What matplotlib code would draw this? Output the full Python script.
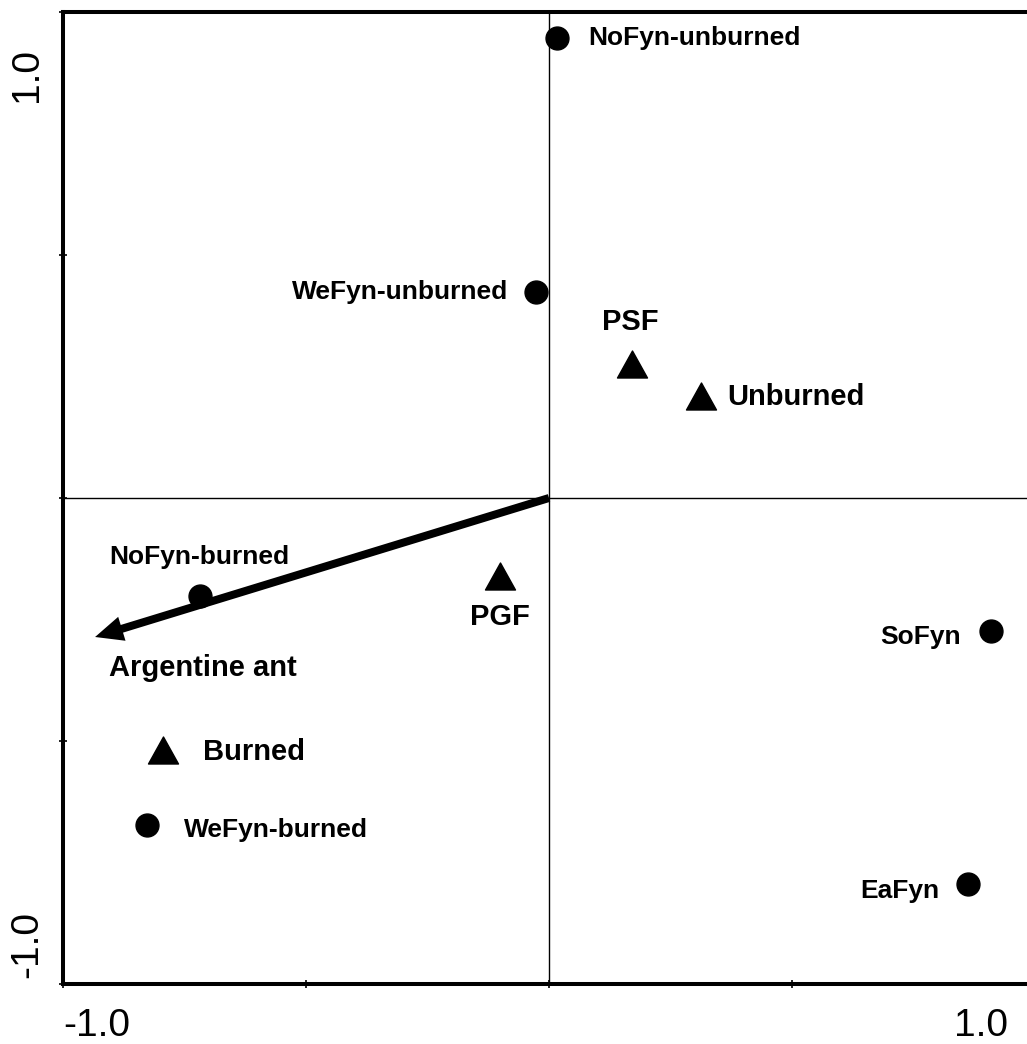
import matplotlib
matplotlib.use("Agg")
import matplotlib.pyplot as plt
from matplotlib.path import Path
from matplotlib.patches import FancyArrow
from matplotlib.transforms import ScaledTranslation

plt.rcParams['font.family'] = ['Liberation Sans', 'DejaVu Sans']

# Sites (circles)
site_names = ["NoFyn-unburned", "WeFyn-unburned", "NoFyn-burned",
              "WeFyn-burned", "SoFyn", "EaFyn"]
site_x = [0.016, -0.027, -0.718, -0.827, 0.909, 0.862]
site_y = [0.947, 0.424, -0.202, -0.673, -0.274, -0.794]

# Treatments / habitat types (triangles)
treat_names = ["PSF", "Unburned", "PGF", "Burned"]
treat_x = [0.171, 0.313, -0.101, -0.794]
treat_y = [0.276, 0.210, -0.160, -0.519]

# Environmental vector
vector_name = "Argentine ant"
vector_x = -0.934
vector_y = -0.286

xticks = [-1.0, -0.5, 0.0, 0.5, 1.0]
xtick_labels = ["-1.0", "", "", "", "1.0"]
yticks = [-1.0, -0.5, 0.0, 0.5, 1.0]
ytick_labels = ["-1.0", "", "", "", "1.0"]

# label placement (pixel offsets from the mark, horizontal alignment)
site_offsets = [(31, 0, "left"), (-28, 0, "right"), (-91, 39, "left"),
                (37, -5, "left"), (-30, -6, "right"), (-29, -7, "right")]
treat_offsets = [(-2, 42, "center"), (26, -1, "left"),
                 (0, -41, "center"), (40, -2, "left")]

W, H = 1027, 1044
fig = plt.figure(figsize=(W / 100, H / 100), dpi=100)
ax = fig.add_axes([63 / W, 60 / H, 972 / W, 972 / H])
ax.set_xlim(-1.0, 1.0)
ax.set_ylim(-1.0, 1.0)

for side in ("left", "top", "bottom"):
    ax.spines[side].set_linewidth(2.9)
ax.spines["right"].set_visible(False)

ax.axhline(0, color="black", lw=1.0, zorder=1)
ax.axvline(0, color="black", lw=1.0, zorder=1)

# site scores
ax.plot(site_x, site_y, "o", color="black", markersize=16.5, zorder=3)

# treatment centroids
tri = Path([(-1, -0.9), (1, -0.9), (0, 0.9), (-1, -0.9)],
           [Path.MOVETO, Path.LINETO, Path.LINETO, Path.CLOSEPOLY])
ax.plot(treat_x, treat_y, linestyle="none", marker=tri, color="black",
        markersize=21.6, zorder=3)

# biplot arrow
ax.add_patch(FancyArrow(0, 0, vector_x, vector_y, width=8 / 486,
                        head_width=25 / 486, head_length=28 / 486,
                        length_includes_head=True, color="black", lw=0,
                        zorder=4))

for name, x, y, (dx, dy, ha) in zip(site_names, site_x, site_y, site_offsets):
    ax.annotate(name, (x, y), xytext=(dx, dy), textcoords="offset pixels",
                ha=ha, va="center", fontsize=19, fontweight="bold")

for name, x, y, (dx, dy, ha) in zip(treat_names, treat_x, treat_y, treat_offsets):
    ax.annotate(name, (x, y), xytext=(dx, dy), textcoords="offset pixels",
                ha=ha, va="center", fontsize=21, fontweight="bold")

ax.annotate(vector_name, (vector_x, vector_y), xytext=(14, -31),
            textcoords="offset pixels", ha="left", va="center",
            fontsize=21, fontweight="bold")

# ticks
ax.set_xticks(xticks, xtick_labels, fontsize=28)
ax.set_yticks(yticks, ytick_labels, fontsize=28)
ax.tick_params(axis="both", direction="inout", length=6, width=1.2,
               top=False, right=False)
ax.tick_params(axis="x", pad=14)
ax.tick_params(axis="y", pad=10)

px = 1 / 100
xl = ax.get_xticklabels()
xl[0].set_ha("left")
xl[-1].set_ha("right")
xl[-1].set_transform(xl[-1].get_transform() +
                     ScaledTranslation(-27 * px, 0, fig.dpi_scale_trans))

yl = ax.get_yticklabels()
for lab in yl:
    lab.set_rotation(90)
    lab.set_ha("right")
yl[0].set_va("bottom")
yl[0].set_transform(yl[0].get_transform() +
                    ScaledTranslation(0, 6 * px, fig.dpi_scale_trans))
yl[-1].set_va("top")
yl[-1].set_transform(yl[-1].get_transform() +
                     ScaledTranslation(0, -36 * px, fig.dpi_scale_trans))

fig.savefig("out.png", dpi=100)
